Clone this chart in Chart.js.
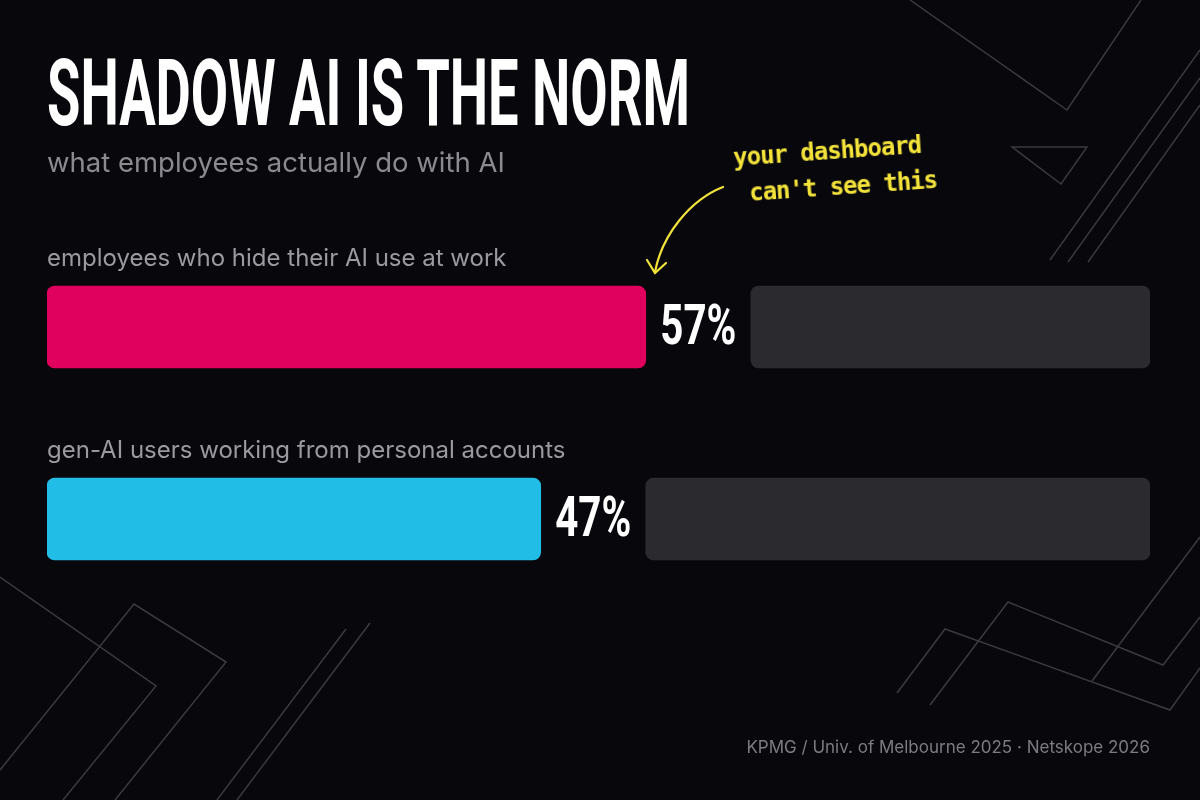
<!DOCTYPE html>
<html><head><meta charset="utf-8">
<script src="https://cdn.jsdelivr.net/npm/chart.js@4"></script>
<style>
html,body{margin:0;padding:0;background:#07070c;width:1200px;height:800px;overflow:hidden;}
#wrap{position:relative;width:1200px;height:800px;}
svg,canvas{position:absolute;left:0;top:0;}
.t{position:absolute;white-space:nowrap;}
#title{left:47px;top:40px;font:bold 92px Roboto,sans-serif;color:#fff;transform-origin:left top;}
#sub{left:47px;top:145px;font:27.5px Inter,sans-serif;color:#8a8a90;}
#src{right:50px;top:737px;font:17px Inter,sans-serif;color:#7c7c82;}
#note{left:732px;top:140px;font:bold 24px "DejaVu Sans Mono",monospace;color:#f2e23a;line-height:36px;transform:rotate(-4deg);transform-origin:left top;letter-spacing:-1px;}
</style></head><body>
<div id="wrap">
<svg width="1200" height="800" fill="none" stroke="#3a3a40" stroke-width="1.5">
<polyline points="910,0 1067,110 1141,0"/>
<polygon points="1012,147 1087,147 1061,184"/>
<line x1="1200" y1="50" x2="1050" y2="260"/>
<line x1="1200" y1="78" x2="1068" y2="262"/>
<line x1="1200" y1="105" x2="1088" y2="262"/>
<polyline points="0,577 156,686 63,800"/>
<polyline points="0,770 134,604 226,662 115,800"/>
<line x1="346" y1="629" x2="217" y2="800"/>
<line x1="370" y1="623" x2="237" y2="800"/>
<polyline points="897,693 945,629 1170,710 1200,668"/>
<polyline points="930,705 1008,602 1163,665 1200,617"/>
<line x1="1092" y1="681" x2="1200" y2="537"/>
</svg>
<canvas id="c" width="1200" height="800"></canvas>
<div class="t" id="title">SHADOW AI IS THE NORM</div>
<div class="t" id="sub">what employees actually do with AI</div>
<div class="t" id="note">your dashboard<br>&nbsp;can't see this</div>
<div class="t" id="src">KPMG / Univ. of Melbourne 2025 · Netskope 2026</div>
<svg width="1200" height="800" fill="none" stroke="#f2e23a" stroke-width="2.2" stroke-linecap="round">
<path d="M723,187 C690,200 662,235 655,272"/>
<path d="M647,260 L655,273 L666,263"/>
</svg>
</div>
<script>
const categories = ["employees who hide their AI use at work", "gen-AI users working from personal accounts"];
const values = [57, 47];
const colors = ["#e0005e", "#22bde6"];
const gapUnits = 10;
const totalUnits = 105;
const rest = values.map(v => totalUnits - gapUnits - v);

const t = document.getElementById('title');
t.style.transform = 'scaleX(' + (643 / t.offsetWidth) + ')';

const R = { topLeft: 8, topRight: 8, bottomLeft: 8, bottomRight: 8 };

const labelPlugin = {
  id: 'labels',
  afterDatasetsDraw(chart) {
    const ctx = chart.ctx;
    const m0 = chart.getDatasetMeta(0), m1 = chart.getDatasetMeta(1);
    m0.data.forEach((bar, i) => {
      const gap = m1.data[i];
      ctx.save();
      ctx.fillStyle = '#9a9aa0';
      ctx.font = '24px Inter, sans-serif';
      ctx.textBaseline = 'middle';
      ctx.textAlign = 'left';
      ctx.fillText(categories[i], chart.chartArea.left, bar.y - 68);
      const cx = (bar.x + gap.x) / 2;
      ctx.translate(cx, bar.y);
      ctx.scale(0.72, 1);
      ctx.fillStyle = '#ffffff';
      ctx.font = 'bold 56px Roboto, sans-serif';
      ctx.textAlign = 'center';
      ctx.fillText(values[i] + '%', 0, 3);
      ctx.restore();
    });
  }
};

new Chart(document.getElementById('c'), {
  type: 'bar',
  data: {
    labels: categories,
    datasets: [
      { data: values, backgroundColor: colors, borderRadius: R, borderSkipped: false },
      { data: categories.map(() => gapUnits), backgroundColor: 'rgba(0,0,0,0)' },
      { data: rest, backgroundColor: '#2a2a2f', borderRadius: R, borderSkipped: false }
    ]
  },
  options: {
    indexAxis: 'y', responsive: false, animation: false,
    barThickness: 82,
    layout: { padding: { left: 47, right: 50, top: 231, bottom: 185 } },
    scales: {
      x: { stacked: true, min: 0, max: totalUnits, display: false },
      y: { stacked: true, display: false }
    },
    plugins: { legend: { display: false }, tooltip: { enabled: false } }
  },
  plugins: [labelPlugin]
});
</script>
</body></html>
